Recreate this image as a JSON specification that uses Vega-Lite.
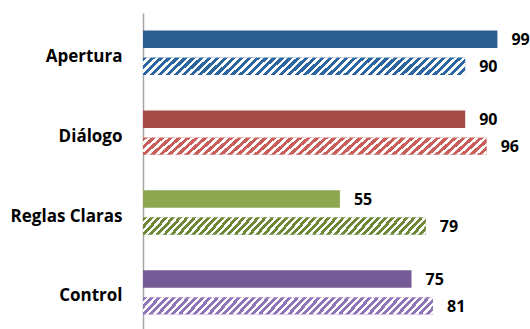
{
  "$schema": "https://vega.github.io/schema/vega-lite/v6.json",
  "width": 358,
  "height": 316,
  "autosize": "none",
  "padding": {"left": 143, "right": 29, "top": 13, "bottom": 0},
  "background": "white",
  "config": {"view": {"stroke": null}},
  "data": {"values": [
    {"cat": "Apertura", "series": "A", "value": 99},
    {"cat": "Apertura", "series": "B", "value": 90},
    {"cat": "Diálogo", "series": "A", "value": 90},
    {"cat": "Diálogo", "series": "B", "value": 96},
    {"cat": "Reglas Claras", "series": "A", "value": 55},
    {"cat": "Reglas Claras", "series": "B", "value": 79},
    {"cat": "Control", "series": "A", "value": 75},
    {"cat": "Control", "series": "B", "value": 81}
  ]},
  "encoding": {
    "y": {
      "field": "cat", "type": "nominal",
      "sort": ["Apertura", "Diálogo", "Reglas Claras", "Control"],
      "scale": {"paddingInner": 0.444, "paddingOuter": 0.2, "align": 0.55},
      "axis": {
        "title": null, "ticks": false, "domainColor": "#A6A6A6", "domainWidth": 1.5,
        "labelFont": "Open Sans", "labelFontWeight": "bold", "labelFontSize": 17,
        "labelColor": "#000000", "labelPadding": 21, "labelOffset": 4
      }
    },
    "yOffset": {"field": "series", "type": "nominal", "scale": {"paddingInner": 0.353, "paddingOuter": 0}},
    "x": {"field": "value", "type": "quantitative", "scale": {"domain": [0, 100]}, "axis": null}
  },
  "layer": [
    {
      "transform": [{"filter": "datum.series === 'A'"}],
      "mark": {"type": "bar"},
      "encoding": {
        "fill": {"field": "cat", "type": "nominal", "legend": null,
          "scale": {"domain": ["Apertura", "Diálogo", "Reglas Claras", "Control"], "range": ["#2B5E91", "#A64B47", "#8CA74F", "#745B95"]}}
      }
    },
    {
      "transform": [{"filter": "datum.series === 'B'"}],
      "mark": {"type": "bar"},
      "encoding": {
        "fill": {"field": "cat", "type": "nominal", "legend": null,
          "scale": {"domain": ["Apertura", "Diálogo", "Reglas Claras", "Control"], "range": ["#2C66A0", "#C95F5A", "#6E8737", "#8E75B7"]}}
      }
    },
    {
      "transform": [{"filter": "datum.series === 'B'"}],
      "mark": {"type": "bar", "fill": {
        "gradient": "linear", "x1": 0, "y1": 0, "x2": 1.25, "y2": 0.0708,
        "stops": [
          {"offset":0,"color":"transparent"},{"offset":0.011,"color":"transparent"},
          {"offset":0.011,"color":"#fff"},{"offset":0.02,"color":"#fff"},
          {"offset":0.02,"color":"transparent"},{"offset":0.031,"color":"transparent"},
          {"offset":0.031,"color":"#fff"},{"offset":0.04,"color":"#fff"},
          {"offset":0.04,"color":"transparent"},{"offset":0.051,"color":"transparent"},
          {"offset":0.051,"color":"#fff"},{"offset":0.06,"color":"#fff"},
          {"offset":0.06,"color":"transparent"},{"offset":0.071,"color":"transparent"},
          {"offset":0.071,"color":"#fff"},{"offset":0.08,"color":"#fff"},
          {"offset":0.08,"color":"transparent"},{"offset":0.091,"color":"transparent"},
          {"offset":0.091,"color":"#fff"},{"offset":0.10,"color":"#fff"},
          {"offset":0.10,"color":"transparent"},{"offset":0.111,"color":"transparent"},
          {"offset":0.111,"color":"#fff"},{"offset":0.12,"color":"#fff"},
          {"offset":0.12,"color":"transparent"},{"offset":0.131,"color":"transparent"},
          {"offset":0.131,"color":"#fff"},{"offset":0.14,"color":"#fff"},
          {"offset":0.14,"color":"transparent"},{"offset":0.151,"color":"transparent"},
          {"offset":0.151,"color":"#fff"},{"offset":0.16,"color":"#fff"},
          {"offset":0.16,"color":"transparent"},{"offset":0.171,"color":"transparent"},
          {"offset":0.171,"color":"#fff"},{"offset":0.18,"color":"#fff"},
          {"offset":0.18,"color":"transparent"},{"offset":0.191,"color":"transparent"},
          {"offset":0.191,"color":"#fff"},{"offset":0.20,"color":"#fff"},
          {"offset":0.20,"color":"transparent"},{"offset":0.211,"color":"transparent"},
          {"offset":0.211,"color":"#fff"},{"offset":0.22,"color":"#fff"},
          {"offset":0.22,"color":"transparent"},{"offset":0.231,"color":"transparent"},
          {"offset":0.231,"color":"#fff"},{"offset":0.24,"color":"#fff"},
          {"offset":0.24,"color":"transparent"},{"offset":0.251,"color":"transparent"},
          {"offset":0.251,"color":"#fff"},{"offset":0.26,"color":"#fff"},
          {"offset":0.26,"color":"transparent"},{"offset":0.271,"color":"transparent"},
          {"offset":0.271,"color":"#fff"},{"offset":0.28,"color":"#fff"},
          {"offset":0.28,"color":"transparent"},{"offset":0.291,"color":"transparent"},
          {"offset":0.291,"color":"#fff"},{"offset":0.30,"color":"#fff"},
          {"offset":0.30,"color":"transparent"},{"offset":0.311,"color":"transparent"},
          {"offset":0.311,"color":"#fff"},{"offset":0.32,"color":"#fff"},
          {"offset":0.32,"color":"transparent"},{"offset":0.331,"color":"transparent"},
          {"offset":0.331,"color":"#fff"},{"offset":0.34,"color":"#fff"},
          {"offset":0.34,"color":"transparent"},{"offset":0.351,"color":"transparent"},
          {"offset":0.351,"color":"#fff"},{"offset":0.36,"color":"#fff"},
          {"offset":0.36,"color":"transparent"},{"offset":0.371,"color":"transparent"},
          {"offset":0.371,"color":"#fff"},{"offset":0.38,"color":"#fff"},
          {"offset":0.38,"color":"transparent"},{"offset":0.391,"color":"transparent"},
          {"offset":0.391,"color":"#fff"},{"offset":0.40,"color":"#fff"},
          {"offset":0.40,"color":"transparent"},{"offset":0.411,"color":"transparent"},
          {"offset":0.411,"color":"#fff"},{"offset":0.42,"color":"#fff"},
          {"offset":0.42,"color":"transparent"},{"offset":0.431,"color":"transparent"},
          {"offset":0.431,"color":"#fff"},{"offset":0.44,"color":"#fff"},
          {"offset":0.44,"color":"transparent"},{"offset":0.451,"color":"transparent"},
          {"offset":0.451,"color":"#fff"},{"offset":0.46,"color":"#fff"},
          {"offset":0.46,"color":"transparent"},{"offset":0.471,"color":"transparent"},
          {"offset":0.471,"color":"#fff"},{"offset":0.48,"color":"#fff"},
          {"offset":0.48,"color":"transparent"},{"offset":0.491,"color":"transparent"},
          {"offset":0.491,"color":"#fff"},{"offset":0.50,"color":"#fff"},
          {"offset":0.50,"color":"transparent"},{"offset":0.511,"color":"transparent"},
          {"offset":0.511,"color":"#fff"},{"offset":0.52,"color":"#fff"},
          {"offset":0.52,"color":"transparent"},{"offset":0.531,"color":"transparent"},
          {"offset":0.531,"color":"#fff"},{"offset":0.54,"color":"#fff"},
          {"offset":0.54,"color":"transparent"},{"offset":0.551,"color":"transparent"},
          {"offset":0.551,"color":"#fff"},{"offset":0.56,"color":"#fff"},
          {"offset":0.56,"color":"transparent"},{"offset":0.571,"color":"transparent"},
          {"offset":0.571,"color":"#fff"},{"offset":0.58,"color":"#fff"},
          {"offset":0.58,"color":"transparent"},{"offset":0.591,"color":"transparent"},
          {"offset":0.591,"color":"#fff"},{"offset":0.60,"color":"#fff"},
          {"offset":0.60,"color":"transparent"},{"offset":0.611,"color":"transparent"},
          {"offset":0.611,"color":"#fff"},{"offset":0.62,"color":"#fff"},
          {"offset":0.62,"color":"transparent"},{"offset":0.631,"color":"transparent"},
          {"offset":0.631,"color":"#fff"},{"offset":0.64,"color":"#fff"},
          {"offset":0.64,"color":"transparent"},{"offset":0.651,"color":"transparent"},
          {"offset":0.651,"color":"#fff"},{"offset":0.66,"color":"#fff"},
          {"offset":0.66,"color":"transparent"},{"offset":0.671,"color":"transparent"},
          {"offset":0.671,"color":"#fff"},{"offset":0.68,"color":"#fff"},
          {"offset":0.68,"color":"transparent"},{"offset":0.691,"color":"transparent"},
          {"offset":0.691,"color":"#fff"},{"offset":0.70,"color":"#fff"},
          {"offset":0.70,"color":"transparent"},{"offset":0.711,"color":"transparent"},
          {"offset":0.711,"color":"#fff"},{"offset":0.72,"color":"#fff"},
          {"offset":0.72,"color":"transparent"},{"offset":0.731,"color":"transparent"},
          {"offset":0.731,"color":"#fff"},{"offset":0.74,"color":"#fff"},
          {"offset":0.74,"color":"transparent"},{"offset":0.751,"color":"transparent"},
          {"offset":0.751,"color":"#fff"},{"offset":0.76,"color":"#fff"},
          {"offset":0.76,"color":"transparent"},{"offset":0.771,"color":"transparent"},
          {"offset":0.771,"color":"#fff"},{"offset":0.78,"color":"#fff"},
          {"offset":0.78,"color":"transparent"},{"offset":0.791,"color":"transparent"},
          {"offset":0.791,"color":"#fff"},{"offset":0.80,"color":"#fff"},
          {"offset":0.80,"color":"transparent"},{"offset":0.811,"color":"transparent"},
          {"offset":0.811,"color":"#fff"},{"offset":0.82,"color":"#fff"},
          {"offset":0.82,"color":"transparent"},{"offset":0.831,"color":"transparent"},
          {"offset":0.831,"color":"#fff"},{"offset":0.84,"color":"#fff"},
          {"offset":0.84,"color":"transparent"},{"offset":0.851,"color":"transparent"},
          {"offset":0.851,"color":"#fff"},{"offset":0.86,"color":"#fff"},
          {"offset":0.86,"color":"transparent"},{"offset":0.871,"color":"transparent"}
        ]}}
    },
    {
      "mark": {"type": "text", "align": "left", "baseline": "middle", "dx": 14, "dy": 1,
        "font": "Open Sans", "fontWeight": "bold", "fontSize": 16, "color": "#000000"},
      "encoding": {"text": {"field": "value", "type": "quantitative"}}
    }
  ],
  "resolve": {"scale": {"fill": "independent"}}
}
